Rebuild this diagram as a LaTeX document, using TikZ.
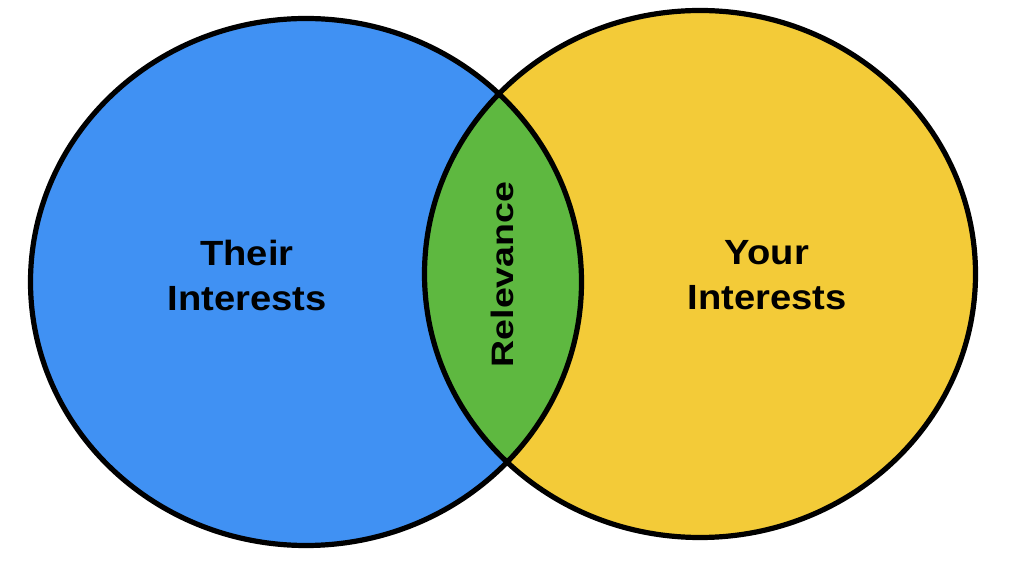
\documentclass[tikz,border=0pt]{standalone}
\usepackage{fontspec}
\setmainfont{Liberation Sans}
\definecolor{theirblue}{RGB}{64,145,243}
\definecolor{youryellow}{RGB}{243,203,56}
\definecolor{relgreen}{RGB}{94,184,64}
\tikzset{
  outline/.style={draw=black, line width=5.2pt},
  biglabel/.style={font=\fontsize{35}{45}\selectfont\bfseries, align=center, xscale=1.09, inner sep=0pt},
  rellabel/.style={font=\fontsize{31}{36}\selectfont\bfseries, rotate=90, xscale=1.21, inner sep=0pt}
}
\begin{document}
\begin{tikzpicture}[x=1pt, y=1pt]
  \useasboundingbox (0,0) rectangle (1024,570);
  \coordinate (lc) at (306,288);
  \coordinate (rc) at (700,296);
  % fills
  \fill[theirblue] (lc) ellipse [x radius=275.5, y radius=263.5];
  \fill[youryellow] (rc) ellipse [x radius=275.5, y radius=263.5];
  \begin{scope}
    \clip (lc) ellipse [x radius=275.5, y radius=263.5];
    \fill[relgreen] (rc) ellipse [x radius=275.5, y radius=263.5];
  \end{scope}
  % outlines
  \draw[outline] (lc) ellipse [x radius=275.5, y radius=263.5];
  \draw[outline] (rc) ellipse [x radius=275.5, y radius=263.5];
  % labels
  \node[biglabel] (their) at (247,295) {Their\\Interests};
  \node[biglabel] (your) at (767,295) {Your\\Interests};
  \node[rellabel] (rel) at (502,295.5) {Relevance};
\end{tikzpicture}
\end{document}
